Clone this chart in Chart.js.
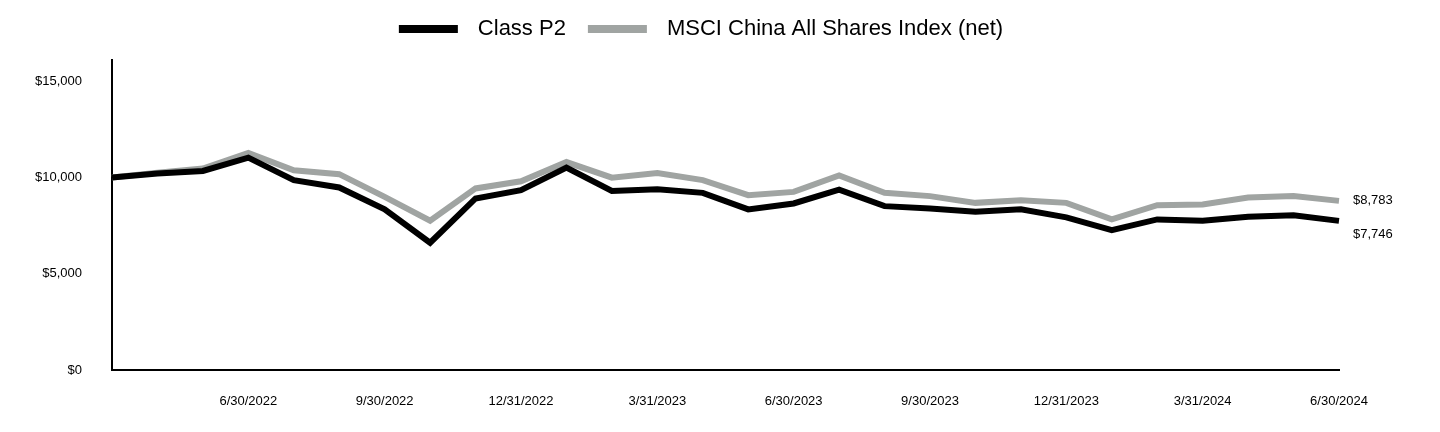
<!DOCTYPE html>
<html>
<head>
<meta charset="utf-8">
<script src="https://cdn.jsdelivr.net/npm/chart.js@4.4.1/dist/chart.umd.min.js"></script>
<style>
  html, body { margin: 0; padding: 0; background: #fff; }
</style>
</head>
<body>
<canvas id="myChart" width="1440" height="432"></canvas>
<script>
const months = [
  '3/31/2022', '4/30/2022', '5/31/2022', '6/30/2022', '7/31/2022', '8/31/2022',
  '9/30/2022', '10/31/2022', '11/30/2022', '12/31/2022', '1/31/2023', '2/28/2023',
  '3/31/2023', '4/30/2023', '5/31/2023', '6/30/2023', '7/31/2023', '8/31/2023',
  '9/30/2023', '10/31/2023', '11/30/2023', '12/31/2023', '1/31/2024', '2/29/2024',
  '3/31/2024', '4/30/2024', '5/31/2024', '6/30/2024',
];
const classP2 = [
  10000, 10200, 10340, 11030, 9860, 9480, 8350, 6610, 8910, 9340, 10510, 9300,
  9390, 9200, 8340, 8650, 9370, 8510, 8390, 8220, 8350, 7930, 7260, 7820,
  7750, 7960, 8040, 7746,
];
const msciChina = [
  10000, 10250, 10460, 11270, 10370, 10170, 8990, 7750, 9430, 9800, 10800, 9990,
  10230, 9860, 9080, 9250, 10110, 9200, 9030, 8680, 8820, 8680, 7820, 8560,
  8600, 8960, 9040, 8783,
];
const yTickValues = [0, 5000, 10000, 15000];

const FONT = '"Liberation Sans", Arial, sans-serif';
const money = v => '$' + v.toLocaleString('en-US');

// legend drawn as thick line swatches above the plot
const lineLegend = {
  id: 'lineLegend',
  afterDraw(chart) {
    const c = chart.ctx;
    const items = chart.data.datasets;
    const boxW = 59, gap = 20, spacing = 22;
    c.save();
    c.font = '22px ' + FONT;
    let total = 0;
    items.forEach((d, i) => {
      total += boxW + gap + c.measureText(d.label).width + (i ? spacing : 0);
    });
    let x = 701 - total / 2;
    const y = 29;
    c.textBaseline = 'middle';
    items.forEach(d => {
      c.fillStyle = d.borderColor;
      c.fillRect(x, y - 4, boxW, 8);
      x += boxW + gap;
      c.fillStyle = '#000';
      c.fillText(d.label, x, y);
      x += c.measureText(d.label).width + spacing;
    });
    c.restore();
  },
};

// value labels at the end of each line
const endLabels = {
  id: 'endLabels',
  afterDatasetsDraw(chart) {
    const c = chart.ctx;
    const shifts = [14, 0];
    c.save();
    c.font = '13px ' + FONT;
    c.fillStyle = '#000';
    c.textBaseline = 'middle';
    chart.data.datasets.forEach((d, i) => {
      const meta = chart.getDatasetMeta(i);
      const pt = meta.data[meta.data.length - 1];
      c.fillText(money(d.data[d.data.length - 1]), pt.x + 14, pt.y + shifts[i]);
    });
    c.restore();
  },
};

const ctx = document.querySelector('#myChart').getContext('2d');

new Chart(ctx, {
  type: 'line',
  data: {
    labels: months,
    datasets: [
      {
        label: 'Class P2',
        data: classP2,
        borderColor: '#000000',
        backgroundColor: '#000000',
        borderWidth: 6,
        pointRadius: 0,
        tension: 0,
        fill: false,
      },
      {
        label: 'MSCI China All Shares Index (net)',
        data: msciChina,
        borderColor: '#a0a4a2',
        backgroundColor: '#a0a4a2',
        borderWidth: 6,
        pointRadius: 0,
        tension: 0,
        fill: false,
      },
    ],
  },
  options: {
    responsive: false,
    animation: false,
    layout: { padding: { top: 60, right: 101, bottom: 0, left: 0 } },
    plugins: {
      legend: { display: false },
      tooltip: { enabled: false },
    },
    scales: {
      x: {
        offset: false,
        grid: { display: false, drawTicks: false },
        border: { display: true, color: '#000', width: 2 },
        ticks: {
          autoSkip: false,
          maxRotation: 0,
          padding: 24,
          color: '#000',
          font: { family: FONT, size: 13 },
          callback: (val, idx) => (idx > 0 && idx % 3 === 0 ? months[idx] : ''),
        },
        afterFit: scale => { scale.height = 62; },
      },
      y: {
        min: 0,
        max: 16100,
        grid: { display: false, drawTicks: false },
        border: { display: true, color: '#000', width: 2 },
        ticks: {
          stepSize: 5000,
          padding: 30,
          color: '#000',
          font: { family: FONT, size: 13 },
          callback: v => money(v),
        },
        afterBuildTicks: scale => {
          scale.ticks = yTickValues.map(v => ({ value: v }));
        },
        afterFit: scale => { scale.width = 112; },
      },
    },
  },
  plugins: [lineLegend, endLabels],
});
</script>
</body>
</html>
